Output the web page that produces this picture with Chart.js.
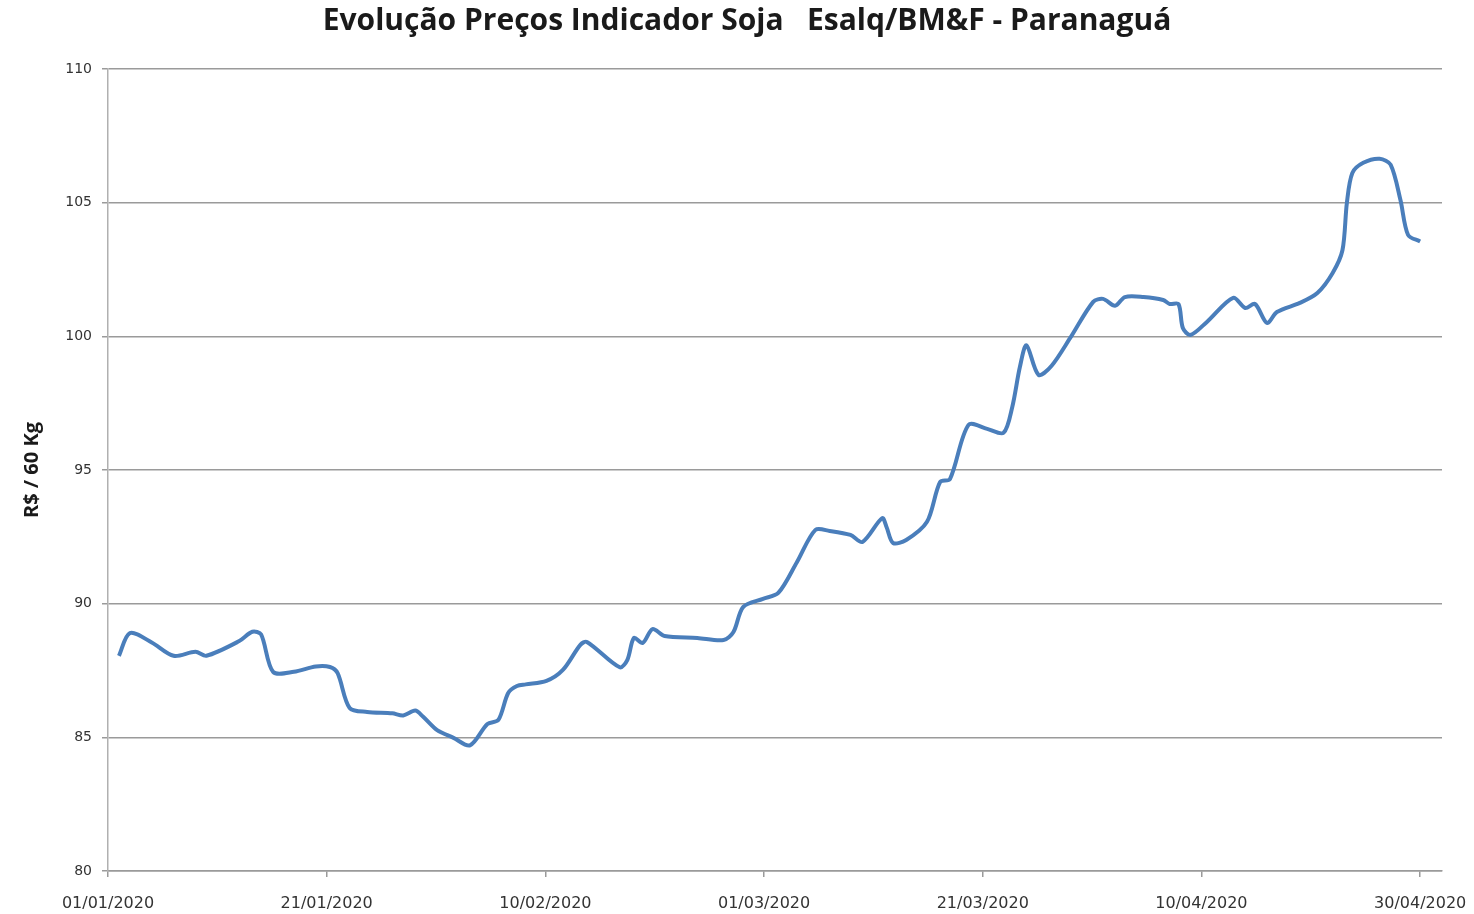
<!DOCTYPE html>
<html>
<head>
<meta charset="utf-8">
<script src="https://cdn.jsdelivr.net/npm/chart.js@4"></script>
<style>
  html, body { margin: 0; padding: 0; background: #fff; }
  #wrap { width: 1474px; height: 914px; }
</style>
</head>
<body>
<div id="wrap"><canvas id="graph" width="1474" height="914"></canvas></div>
<script>
// days since 01/01/2020 and indicator price (R$ / 60 Kg)
const days = [
  1, 2, 4, 6, 8, 9, 12, 13.2, 14, 15.1, 17, 19, 20.3, 21, 22.1, 23.7, 26, 27, 28.1, 28.8,
  30.1, 31.6, 33.1, 34.7, 35.7, 36.6, 37.4, 38.2, 40.1, 41.6, 43.2, 43.8, 46.8, 47.5, 48.1,
  48.9, 49.8, 50.9, 53.9, 56.3, 57.2, 58.1, 59.9, 61.3, 63, 64.7, 66, 67.9, 69, 70.8, 71.2,
  71.8, 73, 74.9, 76.1, 77, 78.7, 80.4, 81.9, 82.7, 83.4, 84, 85.1, 86.3, 88, 90.1, 91,
  92.1, 93, 94.7, 96.5, 97.1, 97.9, 98.3, 99, 100.5, 102.9, 104, 104.9, 106, 106.9, 109,
  110.6, 112, 112.9, 113.3, 113.8, 114.8, 116.3, 117.3, 118.2, 118.9, 120
];
const prices = [
  88.05, 88.9, 88.55, 88.05, 88.2, 88.05, 88.6, 88.95, 88.85, 87.45, 87.45, 87.65, 87.63, 87.4,
  86.1, 85.95, 85.9, 85.82, 86.0, 85.78, 85.27, 84.98, 84.7, 85.5, 85.65, 86.66, 86.92, 86.98,
  87.11, 87.52, 88.46, 88.57, 87.62, 87.9, 88.72, 88.53, 89.05, 88.79, 88.72, 88.64, 88.94,
  89.88, 90.18, 90.4, 91.55, 92.76, 92.72, 92.57, 92.31, 93.2, 92.87, 92.27, 92.38, 93.06,
  94.55, 94.66, 96.69, 96.54, 96.39, 97.36, 98.86, 99.66, 98.56, 98.9, 99.94, 101.29, 101.4,
  101.14, 101.47, 101.47, 101.36, 101.21, 101.21, 100.31, 100.05, 100.54, 101.44, 101.06,
  101.21, 100.5, 100.91, 101.25, 101.62, 102.37, 103.23, 104.99, 106.11, 106.49, 106.64,
  106.42, 105.1, 103.79, 103.55
];
const tickLabels = ["01/01/2020", "21/01/2020", "10/02/2020", "01/03/2020", "21/03/2020", "10/04/2020", "30/04/2020"];

const points = days.map((d, i) => ({ x: d, y: prices[i] }));

const ctx = document.getElementById("graph").getContext("2d");
new Chart(ctx, {
  type: "line",
  data: {
    datasets: [
      {
        label: "Indicador Soja",
        data: points,
        borderColor: "#4a7ebb",
        borderWidth: 4,
        pointRadius: 0,
        tension: 0.3,
        fill: false,
      },
    ],
  },
  options: {
    responsive: false,
    animation: false,
    layout: { padding: { left: 20, right: 0, top: 0, bottom: 0 } },
    plugins: {
      legend: { display: false },
      tooltip: { enabled: false },
      title: {
        display: true,
        text: "Evolução Preços Indicador Soja   Esalq/BM&F - Paranaguá",
        color: "#1a1a1a",
        font: { family: "'Open Sans', sans-serif", size: 30, weight: "bold" },
        padding: { top: 3, bottom: 30 },
      },
    },
    scales: {
      x: {
        type: "linear",
        min: 0,
        max: 122,
        afterFit: (scale) => {
          scale.height = 43;
          scale.paddingLeft = 0;
          scale.paddingRight = 0;
        },
        afterBuildTicks: (scale) => {
          scale.ticks = tickLabels.map((_, i) => ({ value: i * 20 }));
        },
        ticks: {
          autoSkip: false,
          maxRotation: 0,
          padding: 17,
          color: "#333",
          font: { family: "'DejaVu Sans', sans-serif", size: 16 },
          callback: (v) => tickLabels[Math.round(v / 20)],
        },
        grid: {
          drawOnChartArea: false,
          drawTicks: true,
          tickLength: 6,
          tickColor: "#9a9a9a",
          lineWidth: 1.5,
        },
        border: { color: "#9a9a9a", width: 1.5 },
      },
      y: {
        min: 80,
        max: 110,
        afterFit: (scale) => { scale.width = 88; },
        ticks: {
          stepSize: 5,
          padding: 10,
          color: "#333",
          font: { family: "'DejaVu Sans', sans-serif", size: 14 },
        },
        grid: {
          color: "#9a9a9a",
          lineWidth: 1.5,
          tickLength: 6,
          tickColor: "#9a9a9a",
        },
        border: { color: "#b0b0b0", width: 1.5 },
        title: {
          display: true,
          text: "R$ / 60 Kg",
          color: "#1a1a1a",
          font: { family: "'Open Sans', sans-serif", size: 20, weight: "bold" },
          padding: { top: 0, bottom: 0 },
        },
      },
      // empty right-hand axis, only keeps space on the right side
      spacer: {
        type: "linear",
        position: "right",
        afterFit: (scale) => { scale.width = 32; },
        ticks: { display: false },
        grid: { display: false, drawTicks: false },
        border: { display: false },
      },
    },
  },
});
</script>
</body>
</html>
